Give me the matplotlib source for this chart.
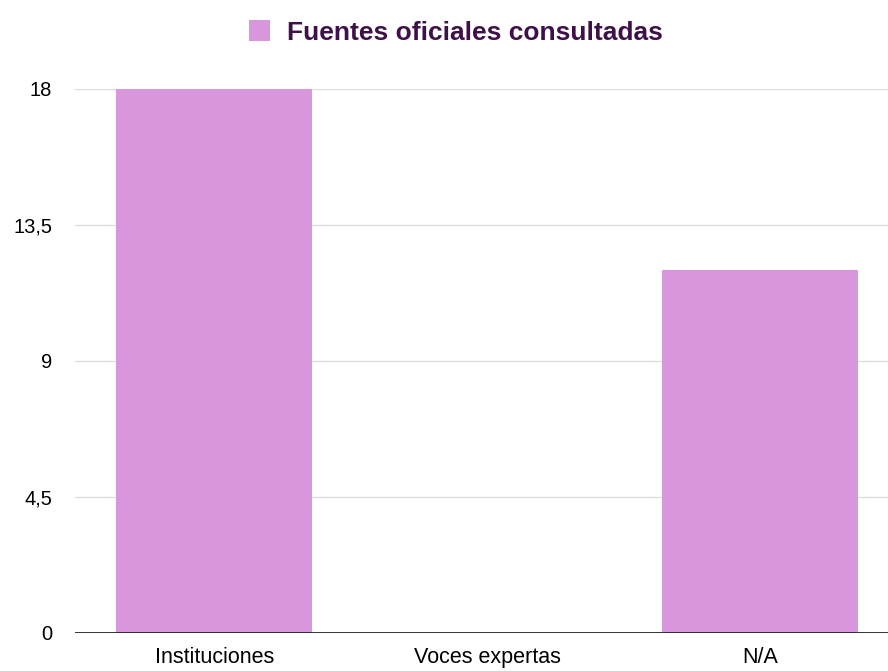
import matplotlib
matplotlib.use("Agg")
import matplotlib.pyplot as plt

categories = ["Instituciones", "Voces expertas", "N/A"]
values = [18, 0, 12]
yticks = [0, 4.5, 9, 13.5, 18]
ytick_labels = ["0", "4,5", "9", "13,5", "18"]
series_name = "Fuentes oficiales consultadas"

bar_color = "#d896dd"
title_color = "#3e1149"

plt.rcParams["font.family"] = ["Liberation Sans", "DejaVu Sans"]

fig = plt.figure(figsize=(8.88, 6.71), dpi=100)
W, H = 888, 671
ax = fig.add_axes([75 / W, (H - 633) / H, (W - 75) / W, (633 - 88.5) / H])

x = list(range(len(categories)))
bars = ax.bar(x, values, width=0.718, color=bar_color, label=series_name, zorder=2)

ax.set_ylim(0, 18)
ax.set_xlim(-0.51, 2.469)

ax.yaxis.grid(True, color="#dddddd", linewidth=1, zorder=1)
ax.set_axisbelow(True)
ax.axhline(0, color="#222222", linewidth=2, zorder=3)

ax.set_yticks(yticks)
ax.set_yticklabels(ytick_labels, fontsize=14.5)
ax.set_xticks(x)
ax.set_xticklabels(categories, fontsize=15.5)
ax.tick_params(axis="both", length=0, colors="black")
ax.tick_params(axis="y", pad=16.5)
ax.tick_params(axis="x", pad=10)
for s in ax.spines.values():
    s.set_visible(False)

fig.legend(handles=[bars], labels=[series_name], loc="upper center",
           bbox_to_anchor=(0.5135, 1.005), frameon=False, handlelength=0.8,
           handleheight=0.8, handletextpad=0.62,
           prop={"weight": "bold", "size": 19}, labelcolor=title_color)

fig.savefig("out.png", dpi=100)
